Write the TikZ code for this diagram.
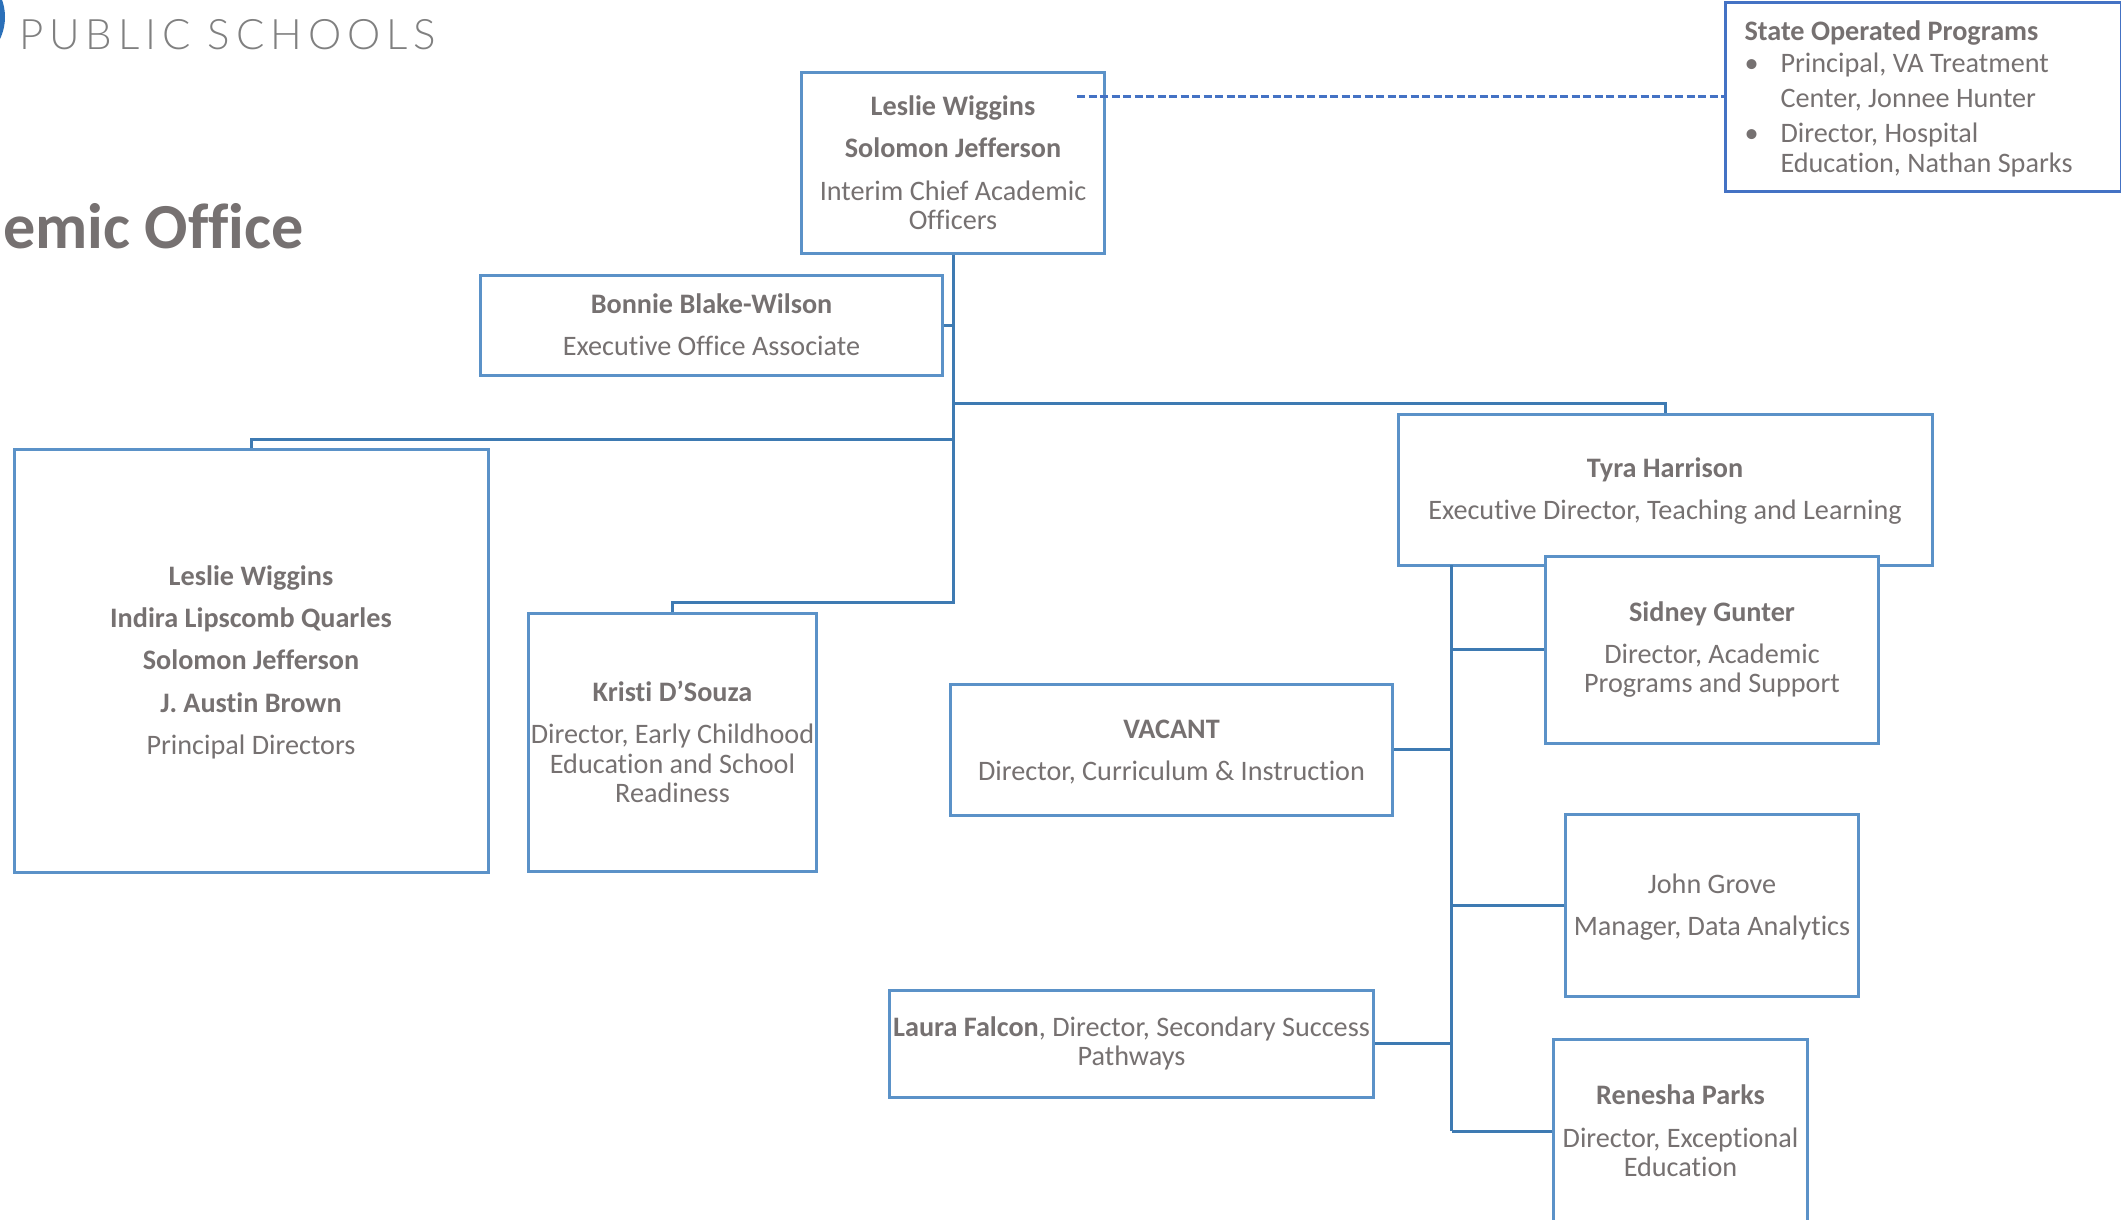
\documentclass[tikz,border=0pt]{standalone}
\usepackage{fontspec}
\setmainfont[Ligatures=NoCommon]{Carlito}
\newfontfamily\logofont[LetterSpace=14]{Lato Light}
\definecolor{txt}{HTML}{767171}
\definecolor{edge}{HTML}{5B92C8}
\definecolor{statee}{HTML}{4472C4}
\definecolor{conn}{HTML}{3E7AB2}
\definecolor{logob}{HTML}{2B70B9}
\tikzset{
  x=1pt,y=-1pt,
  orgbox/.style={draw=edge,line width=3pt,fill=white,text=txt,align=center,inner sep=0pt,
    font=\fontsize{28.2}{29.6}\selectfont},
  link/.style={draw=conn,line width=3pt},
}
\newcommand{\nm}[1]{\textbf{#1}}
\newcommand{\dn}{\rule{0pt}{23.5pt}}
\begin{document}
\begin{tikzpicture}
\useasboundingbox (0,0) rectangle (2121,1220);
\clip (0,0) rectangle (2121,1220);
\fill[white] (0,0) rectangle (2121,1220);
% logo and title
\fill[logob] (-46,17) circle (51);
\node[anchor=base west,inner sep=0pt,text=black!50,font=\logofont\fontsize{42}{42}\selectfont] (logo) at (19,50) {PUBLIC SCHOOLS};
\node[anchor=base west,inner sep=0pt,text=txt,font=\bfseries\fontsize{64.2}{64.2}\selectfont] (title) at (3,248.5) {emic Office};
% boxes
\node[orgbox,minimum width=303pt,minimum height=180pt] (cao) at (953,163) {\nm{Leslie Wiggins}\\[12.6pt]\nm{Solomon Jefferson}\\[12.6pt]Interim Chief Academic\\Officers};
\node[orgbox,minimum width=462pt,minimum height=100pt] (bonnie) at (711.5,325) {\nm{Bonnie Blake-Wilson}\\[12.6pt]Executive Office Associate};
\node[orgbox,minimum width=474pt,minimum height=423pt] (pd) at (251,660.5) {\dn\nm{Leslie Wiggins}\\[12.6pt]\nm{Indira Lipscomb Quarles}\\[12.6pt]\nm{Solomon Jefferson}\\[12.6pt]\nm{J. Austin Brown}\\[12.6pt]Principal Directors};
\node[orgbox,minimum width=288pt,minimum height=258pt] (kristi) at (672.5,742) {\nm{Kristi D’Souza}\\[12.6pt]Director, Early Childhood\\Education and School\\Readiness};
\node[orgbox,minimum width=534pt,minimum height=151pt] (tyra) at (1665,489.5) {\dn\nm{Tyra Harrison}\\[12.6pt]Executive Director, Teaching and Learning};
\node[orgbox,minimum width=333pt,minimum height=187pt] (sidney) at (1712,649.5) {\nm{Sidney Gunter}\\[12.6pt]Director, Academic\\Programs and Support};
\node[orgbox,minimum width=442pt,minimum height=131pt] (vacant) at (1171.5,749.5) {\dn\nm{VACANT}\\[12.6pt]Director, Curriculum \& Instruction};
\node[orgbox,minimum width=293pt,minimum height=182pt] (john) at (1712,905.5) {\dn John Grove\\[12.6pt]Manager, Data Analytics};
\node[orgbox,minimum width=484pt,minimum height=107pt] (laura) at (1131.5,1043.5) {\nm{Laura Falcon}, Director, Secondary Success\\Pathways};
\node[orgbox,minimum width=254pt,minimum height=184pt] (renesha) at (1680.5,1131) {\nm{Renesha Parks}\\[12.6pt]Director, Exceptional\\Education};
\node[orgbox,draw=statee,minimum width=396pt,minimum height=188pt,text width=357pt,align=flush left] (state) at (1923,97) {\dn\nm{State Operated Programs}\\[3pt]\makebox[36pt][l]{•}Principal, VA Treatment\\[5pt]\hspace*{36pt}Center, Jonnee Hunter\\[5pt]\makebox[36pt][l]{•}Director, Hospital\\[1pt]\hspace*{36pt}Education, Nathan Sparks};
% connector junctions
\coordinate (j1) at (953,403);
\coordinate (j2) at (953,439);
\coordinate (j3) at (953,602);
\coordinate (t1) at (1451.5,565);
\coordinate (t2) at (1451.5,1131);
\coordinate (d0) at (1077,97);
% connectors
\draw[link] (cao.south) -- (j3) -| (kristi.north);
\draw[link] (bonnie.east) -- (bonnie.east -| cao.south);
\draw[link] (j1) -| (tyra.north);
\draw[link] (j2) -| (pd.north);
\draw[link] (t1) -- (t2);
\draw[link] (sidney.west) -- (sidney.west -| t1);
\draw[link] (vacant.east) -- (vacant.east -| t1);
\draw[link] (john.west) -- (john.west -| t1);
\draw[link] (laura.east) -- (laura.east -| t1);
\draw[link] (renesha.west) -- (t2);
\draw[draw=statee,line width=3pt,dash pattern=on 8pt off 3.5pt] (d0) -- (d0 -| state.west);
\end{tikzpicture}
\end{document}
